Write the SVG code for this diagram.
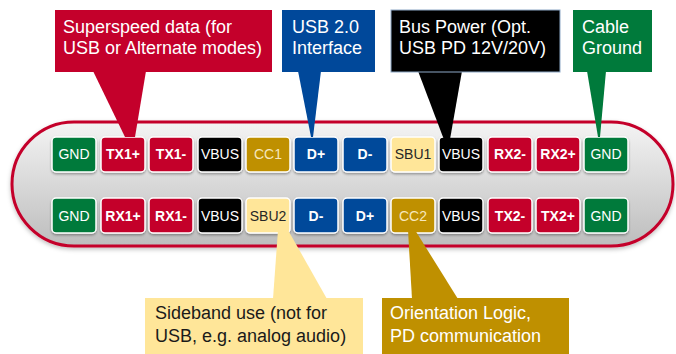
<svg xmlns="http://www.w3.org/2000/svg" width="676" height="354" viewBox="0 0 676 354">
  <defs>
    <linearGradient id="pillFill" x1="0" y1="0" x2="0" y2="1">
      <stop offset="0" stop-color="#f4f4f4"/>
      <stop offset="1" stop-color="#bdbdbd"/>
    </linearGradient>
    <filter id="pinShadow" x="-20%" y="-20%" width="140%" height="150%">
      <feDropShadow dx="0" dy="1.5" stdDeviation="1.2" flood-color="#000" flood-opacity="0.35"/>
    </filter>
    <filter id="pillShadow" x="-5%" y="-10%" width="110%" height="125%">
      <feDropShadow dx="0" dy="2" stdDeviation="2" flood-color="#000" flood-opacity="0.25"/>
    </filter>
  </defs>
  <style>
    .pin rect { stroke: #ffffff; stroke-width: 1.5; filter: url(#pinShadow); }
    .pin text { font-family: "Liberation Sans", Arial, sans-serif; font-size: 14px; text-anchor: middle; fill: #ffffff; }
    .pin text.b { font-weight: bold; }
    .gnd rect { fill: #007a3b; }
    .ss rect { fill: #c4002b; }
    .vbus rect { fill: #000000; }
    .cc rect { fill: #bf9000; }
    .cc text { fill: #f6e7bd; }
    .usb rect { fill: #00489a; }
    .sbu rect { fill: #ffe699; }
    .sbu text { fill: #262626; }
    .label { font-family: "Liberation Sans", Arial, sans-serif; font-size: 18px; fill: #ffffff; }
    .label.dark { fill: #1a1a1a; }
  </style>

  <!-- receptacle body -->
  <rect id="receptacle" x="12" y="122" width="661" height="124" rx="62" ry="62" fill="url(#pillFill)" stroke="#c4002b" stroke-width="3" filter="url(#pillShadow)"/>

  <!-- top row of contacts -->
  <g id="row-a">
    <g id="pin-a1" class="pin gnd"><rect x="52" y="137" width="44" height="35" rx="4"/><text x="74" y="159">GND</text></g>
    <g id="pin-a2" class="pin ss"><rect x="101" y="137" width="44" height="35" rx="4"/><text class="b" x="123" y="159">TX1+</text></g>
    <g id="pin-a3" class="pin ss"><rect x="149" y="137" width="44" height="35" rx="4"/><text class="b" x="171" y="159">TX1-</text></g>
    <g id="pin-a4" class="pin vbus"><rect x="198" y="137" width="44" height="35" rx="4"/><text x="220" y="159">VBUS</text></g>
    <g id="pin-a5" class="pin cc"><rect x="246" y="137" width="44" height="35" rx="4"/><text x="268" y="159">CC1</text></g>
    <g id="pin-a6" class="pin usb"><rect x="294" y="137" width="44" height="35" rx="4"/><text class="b" x="316" y="159">D+</text></g>
    <g id="pin-a7" class="pin usb"><rect x="343" y="137" width="44" height="35" rx="4"/><text class="b" x="365" y="159">D-</text></g>
    <g id="pin-a8" class="pin sbu"><rect x="391" y="137" width="44" height="35" rx="4"/><text x="413" y="159">SBU1</text></g>
    <g id="pin-a9" class="pin vbus"><rect x="439" y="137" width="44" height="35" rx="4"/><text x="461" y="159">VBUS</text></g>
    <g id="pin-a10" class="pin ss"><rect x="488" y="137" width="44" height="35" rx="4"/><text class="b" x="510" y="159">RX2-</text></g>
    <g id="pin-a11" class="pin ss"><rect x="536" y="137" width="44" height="35" rx="4"/><text class="b" x="558" y="159">RX2+</text></g>
    <g id="pin-a12" class="pin gnd"><rect x="584" y="137" width="44" height="35" rx="4"/><text x="606" y="159">GND</text></g>
  </g>

  <!-- bottom row of contacts -->
  <g id="row-b">
    <g id="pin-b12" class="pin gnd"><rect x="52" y="198" width="44" height="35" rx="4"/><text x="74" y="221">GND</text></g>
    <g id="pin-b11" class="pin ss"><rect x="101" y="198" width="44" height="35" rx="4"/><text class="b" x="123" y="221">RX1+</text></g>
    <g id="pin-b10" class="pin ss"><rect x="149" y="198" width="44" height="35" rx="4"/><text class="b" x="171" y="221">RX1-</text></g>
    <g id="pin-b9" class="pin vbus"><rect x="198" y="198" width="44" height="35" rx="4"/><text x="220" y="221">VBUS</text></g>
    <g id="pin-b8" class="pin sbu"><rect x="246" y="198" width="44" height="35" rx="4"/><text x="268" y="221">SBU2</text></g>
    <g id="pin-b7" class="pin usb"><rect x="294" y="198" width="44" height="35" rx="4"/><text class="b" x="316" y="221">D-</text></g>
    <g id="pin-b6" class="pin usb"><rect x="343" y="198" width="44" height="35" rx="4"/><text class="b" x="365" y="221">D+</text></g>
    <g id="pin-b5" class="pin cc"><rect x="391" y="198" width="44" height="35" rx="4"/><text x="413" y="221">CC2</text></g>
    <g id="pin-b4" class="pin vbus"><rect x="439" y="198" width="44" height="35" rx="4"/><text x="461" y="221">VBUS</text></g>
    <g id="pin-b3" class="pin ss"><rect x="488" y="198" width="44" height="35" rx="4"/><text class="b" x="510" y="221">TX2-</text></g>
    <g id="pin-b2" class="pin ss"><rect x="536" y="198" width="44" height="35" rx="4"/><text class="b" x="558" y="221">TX2+</text></g>
    <g id="pin-b1" class="pin gnd"><rect x="584" y="198" width="44" height="35" rx="4"/><text x="606" y="221">GND</text></g>
  </g>

  <!-- callout pointers -->
  <g id="connectors">
    <polygon points="93,71 146,71 135,137 125,137" fill="#c4002b"/>
    <polygon points="298,71 321,71 313,137 311,137" fill="#00489a"/>
    <polygon points="418,71 462,71 449,145 446,145" fill="#000000"/>
    <polygon points="587,71 606,71 600,137 598,137" fill="#007a3b"/>
    <polygon points="273,299 327,299 288,230 278,230" fill="#ffe699"/>
    <polygon points="412,299 458,299 415,230 408,230" fill="#bf9000"/>
  </g>

  <!-- callout boxes -->
  <g id="callout-superspeed">
    <rect x="55" y="10" width="217" height="62" fill="#c4002b"/>
    <text class="label" x="63" y="33">Superspeed data (for</text>
    <text class="label" x="63" y="54">USB or Alternate modes)</text>
  </g>
  <g id="callout-usb2">
    <rect x="282" y="10" width="93" height="62" fill="#00489a"/>
    <text class="label" x="292" y="33">USB 2.0</text>
    <text class="label" x="292" y="54">Interface</text>
  </g>
  <g id="callout-vbus">
    <rect x="391" y="10" width="169" height="62" fill="#000000" stroke="#8da8c6" stroke-width="1"/>
    <text class="label" x="399" y="33">Bus Power (Opt.</text>
    <text class="label" x="399" y="54">USB PD 12V/20V)</text>
  </g>
  <g id="callout-ground">
    <rect x="573" y="10" width="79" height="62" fill="#007a3b"/>
    <text class="label" x="582" y="33">Cable</text>
    <text class="label" x="582" y="54">Ground</text>
  </g>
  <g id="callout-sideband">
    <rect x="145" y="298" width="218" height="56" fill="#ffe699"/>
    <text class="label dark" x="155" y="319">Sideband use (not for</text>
    <text class="label dark" x="155" y="342">USB, e.g. analog audio)</text>
  </g>
  <g id="callout-cc">
    <rect x="382" y="298" width="187" height="56" fill="#bf9000"/>
    <text class="label" x="390" y="319">Orientation Logic,</text>
    <text class="label" x="390" y="342">PD communication</text>
  </g>
</svg>
